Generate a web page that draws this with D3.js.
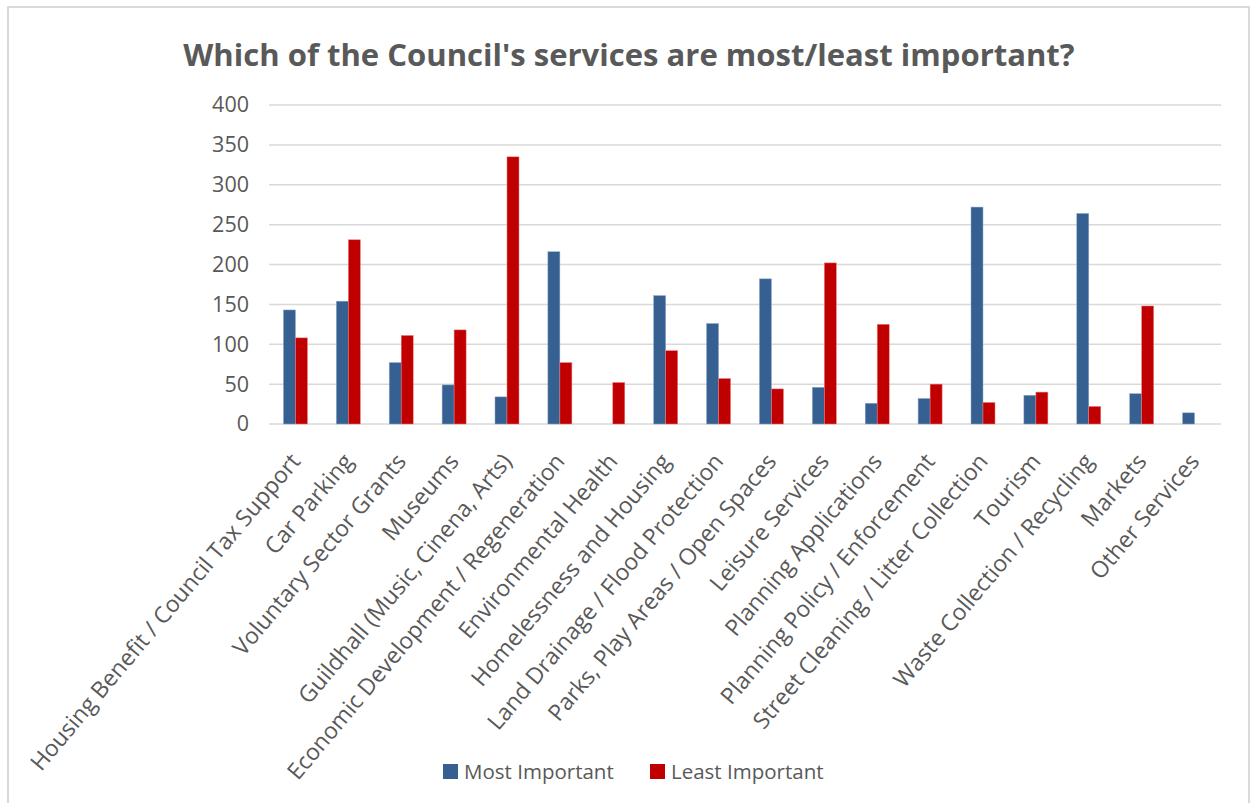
<!DOCTYPE html>
<html>
<head>
<meta charset="utf-8">
<script src="https://cdn.jsdelivr.net/npm/d3@7"></script>
<style>
  body { margin: 0; background: #fff; }
  text { font-family: "Open Sans", "Noto Sans", sans-serif; fill: #595959; }
</style>
</head>
<body>
<svg id="chart" width="1251" height="803"></svg>
<script>
const categories = [
    "Housing Benefit / Council Tax Support",
    "Car Parking",
    "Voluntary Sector Grants",
    "Museums",
    "Guildhall (Music, Cinena, Arts)",
    "Economic Development / Regeneration",
    "Environmental Health",
    "Homelessness and Housing",
    "Land Drainage / Flood Protection",
    "Parks, Play Areas / Open Spaces",
    "Leisure Services",
    "Planning Applications",
    "Planning Policy / Enforcement",
    "Street Cleaning / Litter Collection",
    "Tourism",
    "Waste Collection / Recycling",
    "Markets",
    "Other Services"
];
const mostImportant = [143, 154, 77, 49, 34, 216, 0, 161, 126, 182, 46, 26, 32, 272, 36, 264, 38, 14];
const leastImportant = [108, 231, 111, 118, 335, 77, 52, 92, 57, 44, 202, 125, 50, 27, 40, 22, 148, 0];
const seriesNames = ["Most Important", "Least Important"];
const colors = ["#376092", "#C00000"];
const yTicks = [0, 50, 100, 150, 200, 250, 300, 350, 400];

const svg = d3.select("#chart");

// outer chart border (bottom runs off the picture)
svg.append("path")
    .attr("d", "M8,810 V7 H1249 V810")
    .attr("fill", "none")
    .attr("stroke", "#D9D9D9")
    .attr("stroke-width", 2);

let margin = { top: 105, left: 269, right: 1221, bottom: 424 };

let x = d3.scaleBand()
    .domain(categories)
    .range([margin.left, margin.right])
    .padding(0);

let y = d3.scaleLinear()
    .domain([0, 400])
    .range([margin.bottom, margin.top]);

let barW = 12;

// gridlines
svg.append("g")
    .selectAll("line")
    .data(yTicks)
    .join("line")
    .attr("x1", margin.left)
    .attr("x2", margin.right)
    .attr("y1", d => y(d))
    .attr("y2", d => y(d))
    .attr("stroke", "#D9D9D9")
    .attr("stroke-width", 1.5);

// y axis labels
let yAxis = svg.append("g")
    .attr("transform", "translate(" + (margin.left - 20) + ",0)")
    .call(d3.axisLeft(y).tickValues(yTicks).tickSize(0).tickPadding(0));
yAxis.select(".domain").remove();
yAxis.selectAll("text")
    .attr("fill", "#595959")
    .style("font-family", "\"Open Sans\", sans-serif")
    .style("font-size", "21.5px");

// bars
let data = categories.map((c, i) => ({ c: c, vals: [mostImportant[i], leastImportant[i]] }));

let groups = svg.append("g")
    .selectAll("g")
    .data(data)
    .join("g")
    .attr("transform", d => "translate(" + (x(d.c) + x.bandwidth() / 2 - barW) + ",0)");

groups.selectAll("rect")
    .data(d => d.vals.map((v, k) => ({ v: v, k: k })))
    .join("rect")
    .filter(d => d.v > 0)
    .attr("x", d => d.k * barW)
    .attr("y", d => y(d.v))
    .attr("width", barW)
    .attr("height", d => y(0) - y(d.v))
    .attr("fill", d => colors[d.k])
    .attr("stroke", d => d.k === 0 ? "#8FA8C8" : "#E88080")
    .attr("stroke-width", 0.5);

// x labels, rotated
let labels = svg.append("g")
    .selectAll("text")
    .data(categories)
    .join("text")
    .attr("text-anchor", "end")
    .style("font-size", "20px")
    .text(d => d);
// size them so the longest label runs as long as in the original
let longest = labels.filter((d, i) => i === 0).node().getComputedTextLength();
let labelSize = 20 * 405 / longest;
labels
    .style("font-size", labelSize + "px")
    .attr("transform", d => "translate(" + (x(d) + x.bandwidth() / 2 + 6) + "," + 462 + ") rotate(-50)");

// title
let title = svg.append("text")
    .attr("x", 629)
    .attr("y", 66)
    .attr("text-anchor", "middle")
    .style("font-weight", "bold")
    .style("font-size", "30px")
    .text("Which of the Council's services are most/least important?");
let tw = title.node().getComputedTextLength();
title.style("font-size", (30 * 892 / tw) + "px");

// legend
let legendX = [443, 650];
let legend = svg.append("g")
    .selectAll("g")
    .data(seriesNames)
    .join("g")
    .attr("transform", (d, i) => "translate(" + legendX[i] + ",764)");
legend.append("rect")
    .attr("width", 15)
    .attr("height", 15)
    .attr("fill", (d, i) => colors[i]);
legend.append("text")
    .attr("x", 21)
    .attr("y", 15)
    .style("font-size", "20.5px")
    .text(d => d);
</script>
</body>
</html>
